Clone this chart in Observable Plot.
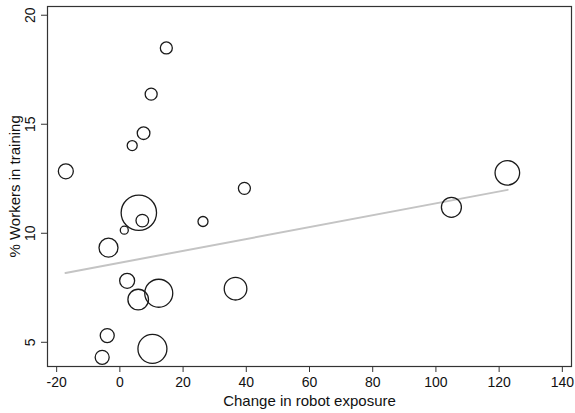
<!DOCTYPE html>
<html>
<head>
<meta charset="utf-8">
<script src="https://cdn.jsdelivr.net/npm/d3@7"></script>
<script src="https://cdn.jsdelivr.net/npm/@observablehq/plot@0.6"></script>
<style>
  html, body { margin: 0; padding: 0; background: #fff; }
  svg { font-family: "Liberation Sans", Arial, sans-serif; }
</style>
</head>
<body>
<div id="chart"></div>
<script>
// Change in robot exposure (x), % workers in training (y), marker weight (area)
const robotChange = [-17.1, 14.7, 9.9, 7.5, 3.9, 39.4, 122.6, 104.9, 6.0, 7.1, 1.4, 26.3, -3.6, 2.3, 5.8, 12.3, 36.6, -4.0, -5.6, 10.3];
const training    = [12.84, 18.50, 16.38, 14.59, 14.02, 12.06, 12.77, 11.19, 10.94, 10.58, 10.14, 10.54, 9.34, 7.82, 6.96, 7.25, 7.46, 5.31, 4.31, 4.70];
const weight      = [56, 36, 36, 40, 25, 36, 151, 100, 313, 40, 16, 25, 90, 56, 106, 196, 128, 49, 49, 210];

// Fitted line end points
const fitX = [-17.2, 122.7];
const fitY = [8.18, 11.99];

const xTicks = [-20, 0, 20, 40, 60, 80, 100, 120, 140];
const yTicks = [5, 10, 15, 20];

const points = robotChange.map((x, i) => ({x, y: training[i], w: weight[i]}));
const fit = fitX.map((x, i) => ({x, y: fitY[i]}));

const chart = Plot.plot({
  width: 575,
  height: 413,
  marginLeft: 47,
  marginRight: 4,
  marginTop: 6,
  marginBottom: 47,
  style: {fontFamily: '"Liberation Sans", Arial, sans-serif', fontSize: "14px", color: "#111", background: "#fff"},
  x: {domain: [-22.9, 142.9]},
  y: {domain: [3.89, 20.4]},
  r: {type: "sqrt", domain: [0, d3.max(weight)], range: [0, 17.7]},
  marks: [
    Plot.frame({stroke: "#333", strokeWidth: 1.2}),
    Plot.line(fit, {x: "x", y: "y", stroke: "#c4c4c4", strokeWidth: 2}),
    Plot.dot(points, {x: "x", y: "y", r: "w", fill: "none", stroke: "#1a1a1a", strokeWidth: 1.3}),
    Plot.axisX({ticks: xTicks, tickSize: 6, tickPadding: 5, fontSize: 14, stroke: "#333",
      tickFormat: d => String(d), label: null}),
    Plot.text(["Change in robot exposure"], {x: () => 60, text: d => d, frameAnchor: "bottom", dy: 39,
      textAnchor: "middle", fontSize: 15, fill: "#111"}),
    Plot.axisY({ticks: yTicks, tickSize: 6, text: null, label: null, stroke: "#333"}),
    Plot.text(yTicks, {y: d => d, text: d => String(d), frameAnchor: "left", dx: -17, rotate: -90,
      textAnchor: "middle", fontSize: 14, fill: "#111"}),
    Plot.text(["% Workers in training"], {y: () => 12.15, text: d => d, frameAnchor: "left", dx: -32, rotate: -90,
      textAnchor: "middle", fontSize: 15, fill: "#111"})
  ]
});
document.getElementById("chart").appendChild(chart);
</script>
</body>
</html>
